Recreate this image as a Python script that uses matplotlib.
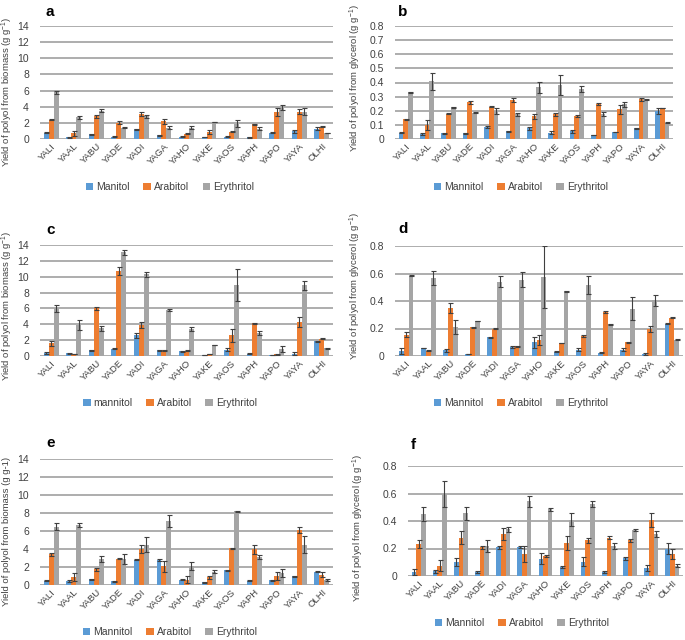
import numpy as np
import matplotlib
matplotlib.use("Agg")
import matplotlib.pyplot as plt

plt.rcParams['font.family'] = ['Liberation Sans', 'DejaVu Sans']

strains = ["YALI", "YAAL", "YABU", "YADE", "YADI", "YAGA", "YAHO", "YAKE",
           "YAOS", "YAPH", "YAPO", "YAYA", "OLHI"]

# Panel a (biomass)
a_man = [0.8, 0.2, 0.6, 0.3, 1.2, 0.45, 0.3, 0.25, 0.3, 0.2, 0.8, 0.95, 1.3]
a_man_err = [0.05, 0.05, 0.08, 0.03, 0.1, 0.05, 0.03, 0.03, 0.05, 0.02, 0.05, 0.15, 0.15]
a_ara = [2.4, 0.7, 2.8, 2.0, 3.1, 2.2, 0.65, 0.9, 0.9, 1.8, 3.4, 3.4, 1.5]
a_ara_err = [0.05, 0.3, 0.2, 0.2, 0.2, 0.3, 0.05, 0.25, 0.05, 0.1, 0.5, 0.3, 0.05]
a_ery = [5.8, 2.7, 3.5, 1.4, 2.8, 1.4, 1.4, 2.1, 1.9, 1.3, 3.9, 3.4, 0.75]
a_ery_err = [0.2, 0.2, 0.2, 0.05, 0.2, 0.2, 0.15, 0.05, 0.4, 0.2, 0.3, 0.4, 0.05]

# Panel b (glycerol)
b_man = [0.045, 0.035, 0.04, 0.04, 0.085, 0.055, 0.075, 0.045, 0.055, 0.028, 0.05, 0.075, 0.2]
b_man_err = [0.003, 0.01, 0.003, 0.003, 0.005, 0.003, 0.008, 0.01, 0.01, 0.003, 0.003, 0.003, 0.02]
b_ara = [0.14, 0.10, 0.18, 0.26, 0.23, 0.275, 0.16, 0.175, 0.165, 0.25, 0.21, 0.28, 0.22]
b_ara_err = [0.003, 0.035, 0.003, 0.01, 0.005, 0.015, 0.02, 0.01, 0.008, 0.008, 0.03, 0.01, 0.003]
b_ery = [0.33, 0.41, 0.225, 0.185, 0.20, 0.175, 0.365, 0.38, 0.355, 0.175, 0.245, 0.28, 0.115]
b_ery_err = [0.003, 0.06, 0.003, 0.003, 0.02, 0.01, 0.04, 0.07, 0.02, 0.015, 0.015, 0.003, 0.003]

# Panel c (biomass)
c_man = [0.35, 0.35, 0.7, 0.9, 2.6, 0.7, 0.6, 0.1, 0.8, 0.3, 0.1, 0.3, 1.85]
c_man_err = [0.15, 0.05, 0.05, 0.05, 0.35, 0.1, 0.05, 0.02, 0.2, 0.05, 0.02, 0.2, 0.05]
c_ara = [1.6, 0.25, 6.0, 10.7, 3.9, 0.7, 0.65, 0.25, 2.6, 4.1, 0.2, 4.3, 2.2]
c_ara_err = [0.3, 0.03, 0.15, 0.5, 0.35, 0.1, 0.05, 0.03, 0.8, 0.05, 0.03, 0.6, 0.05]
c_ery = [6.0, 3.9, 3.5, 13.1, 10.3, 5.8, 3.4, 1.4, 9.0, 2.9, 0.85, 8.9, 0.95]
c_ery_err = [0.4, 0.6, 0.3, 0.3, 0.3, 0.1, 0.2, 0.03, 2.0, 0.2, 0.4, 0.6, 0.05]

# Panel d (glycerol)
d_man = [0.035, 0.058, 0.042, 0.015, 0.135, 0.065, 0.1, 0.03, 0.045, 0.025, 0.045, 0.015, 0.235]
d_man_err = [0.02, 0.003, 0.01, 0.003, 0.003, 0.01, 0.04, 0.003, 0.01, 0.003, 0.01, 0.01, 0.003]
d_ara = [0.155, 0.04, 0.35, 0.21, 0.2, 0.07, 0.115, 0.095, 0.145, 0.32, 0.1, 0.195, 0.28]
d_ara_err = [0.02, 0.003, 0.035, 0.003, 0.003, 0.003, 0.035, 0.003, 0.01, 0.01, 0.003, 0.02, 0.003]
d_ery = [0.585, 0.57, 0.21, 0.255, 0.54, 0.555, 0.575, 0.47, 0.515, 0.23, 0.345, 0.405, 0.12]
d_ery_err = [0.003, 0.05, 0.05, 0.003, 0.04, 0.055, 0.225, 0.003, 0.065, 0.003, 0.085, 0.04, 0.003]

# Panel e (biomass)
e_man = [0.5, 0.45, 0.65, 0.4, 2.8, 2.75, 0.6, 0.3, 1.65, 0.5, 0.55, 0.95, 1.5]
e_man_err = [0.05, 0.15, 0.05, 0.05, 0.05, 0.1, 0.05, 0.03, 0.05, 0.05, 0.05, 0.05, 0.05]
e_ara = [3.4, 0.9, 1.75, 2.9, 4.0, 2.1, 0.6, 0.85, 4.1, 4.0, 1.0, 6.1, 1.15]
e_ara_err = [0.2, 0.4, 0.15, 0.05, 0.4, 0.6, 0.4, 0.2, 0.05, 0.5, 0.4, 0.3, 0.25]
e_ery = [6.5, 6.7, 2.9, 2.9, 4.5, 7.1, 2.1, 1.5, 8.2, 3.1, 1.3, 4.5, 0.55]
e_ery_err = [0.4, 0.2, 0.3, 0.55, 0.8, 0.7, 0.45, 0.2, 0.05, 0.25, 0.45, 0.9, 0.15]

# Panel f (glycerol)
f_man = [0.03, 0.035, 0.1, 0.03, 0.21, 0.21, 0.125, 0.065, 0.105, 0.03, 0.13, 0.06, 0.2]
f_man_err = [0.02, 0.01, 0.03, 0.01, 0.01, 0.005, 0.04, 0.01, 0.035, 0.01, 0.01, 0.02, 0.04]
f_ara = [0.235, 0.075, 0.28, 0.21, 0.305, 0.16, 0.145, 0.24, 0.26, 0.28, 0.26, 0.41, 0.16]
f_ara_err = [0.03, 0.04, 0.05, 0.01, 0.045, 0.06, 0.01, 0.05, 0.02, 0.01, 0.01, 0.05, 0.035]
f_ery = [0.45, 0.595, 0.455, 0.22, 0.34, 0.545, 0.485, 0.41, 0.525, 0.22, 0.335, 0.305, 0.075]
f_ery_err = [0.05, 0.095, 0.05, 0.045, 0.02, 0.04, 0.01, 0.045, 0.02, 0.02, 0.01, 0.02, 0.01]

colors = ["#5B9BD5", "#ED7D31", "#A5A5A5"]
grid_color = "#A0A0A0"
err_color = "#404040"
text_color = "#404040"

W, H = 685, 640
fig = plt.figure(figsize=(W / 100, H / 100), dpi=100)

def px_axes(x0, x1, ytop, ybot):
    return fig.add_axes([x0 / W, 1 - ybot / H, (x1 - x0) / W, (ybot - ytop) / H])

panels = [
    dict(letter="a", box=(40, 333, 26, 139), data=(a_man, a_ara, a_ery), err=(a_man_err, a_ara_err, a_ery_err),
         ymax=14, ticks=np.arange(0, 15, 2),
         ylabel="Yield of polyol from biomass (g g$^{\\mathregular{-1}}$)", ylab_pos=(7, 92),
         labels=["Manitol", "Arabitol", "Erythritol"], leg=(170, 187), title_pos=(46, 12)),
    dict(letter="b", box=(395, 673, 26, 139), data=(b_man, b_ara, b_ery), err=(b_man_err, b_ara_err, b_ery_err),
         ymax=0.8, ticks=np.round(np.arange(0, 0.81, 0.1), 1),
         ylabel="Yield of polyol from glycerol (g g$^{\\mathregular{-1}}$)", ylab_pos=(355, 78),
         labels=["Mannitol", "Arabitol", "Erythritol"], leg=(521, 187), title_pos=(398, 12)),
    dict(letter="c", box=(40, 333, 245, 356), data=(c_man, c_ara, c_ery), err=(c_man_err, c_ara_err, c_ery_err),
         ymax=14, ticks=np.arange(0, 15, 2),
         ylabel="Yield of polyol from biomass (g g$^{\\mathregular{-1}}$)", ylab_pos=(7, 306),
         labels=["mannitol", "Arabitol", "Erythritol"], leg=(170, 403), title_pos=(46, 230)),
    dict(letter="d", box=(395, 683, 246, 356), data=(d_man, d_ara, d_ery), err=(d_man_err, d_ara_err, d_ery_err),
         ymax=0.8, ticks=np.round(np.arange(0, 0.81, 0.2), 1),
         ylabel="Yield of polyol from glycerol (g g$^{\\mathregular{-1}}$)", ylab_pos=(355, 286),
         labels=["Mannitol", "Arabitol", "Erythritol"], leg=(521, 403), title_pos=(398, 229)),
    dict(letter="e", box=(40, 333, 459, 585), data=(e_man, e_ara, e_ery), err=(e_man_err, e_ara_err, e_ery_err),
         ymax=14, ticks=np.arange(0, 15, 2),
         ylabel="Yield of polyol from biomass (g g-1)", ylab_pos=(7, 531),
         labels=["Mannitol", "Arabitol", "Erythritol"], leg=(170, 632), title_pos=(46, 443)),
    dict(letter="f", box=(408, 683, 466, 576), data=(f_man, f_ara, f_ery), err=(f_man_err, f_ara_err, f_ery_err),
         ymax=0.8, ticks=np.round(np.arange(0, 0.81, 0.2), 1),
         ylabel="Yield of polyol from glycerol (g g$^{\\mathregular{-1}}$)", ylab_pos=(358, 528),
         labels=["Mannitol", "Arabitol", "Erythritol"], leg=(522, 623), title_pos=(411, 445)),
]

x = np.arange(len(strains))
bw = 0.22
for p in panels:
    ax = px_axes(*p["box"])
    handles = []
    for i, (vals, errs) in enumerate(zip(p["data"], p["err"])):
        h = ax.bar(x + (i - 1) * bw, vals, width=bw, color=colors[i], zorder=3,
                   yerr=errs, error_kw=dict(ecolor=err_color, elinewidth=0.8, capsize=1.8, capthick=0.8, zorder=4))
        handles.append(h)
    ax.set_xlim(-0.5, len(strains) - 0.5)
    ax.set_ylim(0, p["ymax"])
    ax.set_yticks(p["ticks"])
    ax.set_yticklabels(["{:g}".format(t) for t in p["ticks"]], fontsize=7.5, color=text_color)
    ax.yaxis.grid(True, color=grid_color, linewidth=1.2, zorder=0)
    ax.set_axisbelow(True)
    for s in ["top", "right", "left", "bottom"]:
        ax.spines[s].set_visible(False)
    ax.tick_params(axis="y", length=0, pad=8)
    ax.tick_params(axis="x", length=0, pad=2)
    ax.set_xticks(x)
    ax.set_xticklabels(strains, rotation=45, ha="right", rotation_mode="anchor", fontsize=6.8, color=text_color)
    fig.text(p["ylab_pos"][0] / W, 1 - p["ylab_pos"][1] / H, p["ylabel"], rotation=90,
             ha="center", va="center", fontsize=6.8, color=text_color)
    fig.text(p["title_pos"][0] / W, 1 - p["title_pos"][1] / H, p["letter"], fontsize=11,
             fontweight="bold", ha="left", va="center")
    fig.legend(handles, p["labels"], loc="center", bbox_to_anchor=(p["leg"][0] / W, 1 - p["leg"][1] / H),
               ncol=3, frameon=False, fontsize=7.5, handlelength=0.7, handleheight=0.7,
               handletextpad=0.3, columnspacing=1.3, labelcolor=text_color)

fig.savefig("out.png", dpi=100)
